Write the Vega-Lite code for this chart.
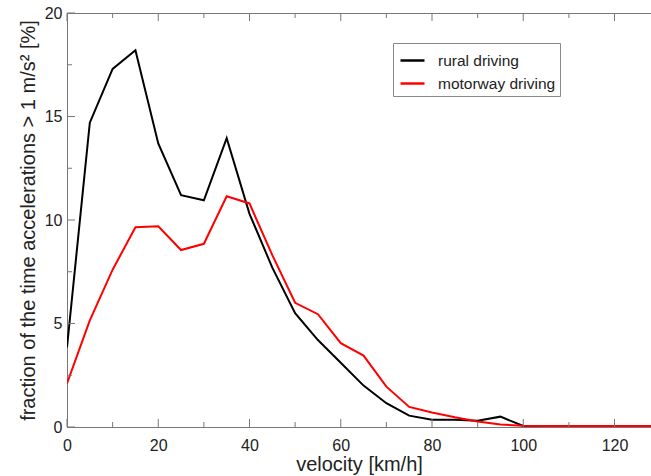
{
  "$schema": "https://vega.github.io/schema/vega-lite/v6.json",
  "autosize": "none",
  "padding": {"left": 67, "top": 13, "right": 0, "bottom": 49},
  "width": 584,
  "height": 414,
  "background": "white",
  "config": {
    "view": {"stroke": "#777", "strokeWidth": 1},
    "font": "Liberation Sans",
    "axis": {"grid": false, "domainColor": "#777", "labelColor": "#222", "titleColor": "#222", "labelFontSize": 16, "titleFontSize": 20, "titleFontWeight": "normal", "labelFont": "Liberation Sans", "titleFont": "Liberation Sans"}
  },
  "datasets": {
    "curves": [
      {"series": "rural driving", "v": 0, "f": 3.85},
      {"series": "rural driving", "v": 5, "f": 14.7},
      {"series": "rural driving", "v": 10, "f": 17.3},
      {"series": "rural driving", "v": 15, "f": 18.2},
      {"series": "rural driving", "v": 20, "f": 13.7},
      {"series": "rural driving", "v": 25, "f": 11.2},
      {"series": "rural driving", "v": 30, "f": 10.95},
      {"series": "rural driving", "v": 35, "f": 13.95},
      {"series": "rural driving", "v": 40, "f": 10.3},
      {"series": "rural driving", "v": 45, "f": 7.7},
      {"series": "rural driving", "v": 50, "f": 5.5},
      {"series": "rural driving", "v": 55, "f": 4.2},
      {"series": "rural driving", "v": 60, "f": 3.1},
      {"series": "rural driving", "v": 65, "f": 2.0},
      {"series": "rural driving", "v": 70, "f": 1.15},
      {"series": "rural driving", "v": 75, "f": 0.55},
      {"series": "rural driving", "v": 80, "f": 0.35},
      {"series": "rural driving", "v": 85, "f": 0.35},
      {"series": "rural driving", "v": 90, "f": 0.3},
      {"series": "rural driving", "v": 95, "f": 0.5},
      {"series": "rural driving", "v": 100, "f": 0.05},
      {"series": "rural driving", "v": 105, "f": 0.0},
      {"series": "rural driving", "v": 110, "f": 0.0},
      {"series": "motorway driving", "v": 0, "f": 2.1},
      {"series": "motorway driving", "v": 5, "f": 5.15},
      {"series": "motorway driving", "v": 10, "f": 7.6},
      {"series": "motorway driving", "v": 15, "f": 9.65},
      {"series": "motorway driving", "v": 20, "f": 9.7},
      {"series": "motorway driving", "v": 25, "f": 8.55},
      {"series": "motorway driving", "v": 30, "f": 8.85},
      {"series": "motorway driving", "v": 35, "f": 11.15},
      {"series": "motorway driving", "v": 40, "f": 10.8},
      {"series": "motorway driving", "v": 45, "f": 8.3},
      {"series": "motorway driving", "v": 50, "f": 6.0},
      {"series": "motorway driving", "v": 55, "f": 5.45},
      {"series": "motorway driving", "v": 60, "f": 4.05},
      {"series": "motorway driving", "v": 65, "f": 3.45},
      {"series": "motorway driving", "v": 70, "f": 1.95},
      {"series": "motorway driving", "v": 75, "f": 0.97},
      {"series": "motorway driving", "v": 80, "f": 0.7},
      {"series": "motorway driving", "v": 85, "f": 0.47},
      {"series": "motorway driving", "v": 90, "f": 0.27},
      {"series": "motorway driving", "v": 95, "f": 0.12},
      {"series": "motorway driving", "v": 100, "f": 0.06},
      {"series": "motorway driving", "v": 105, "f": 0.05},
      {"series": "motorway driving", "v": 110, "f": 0.05},
      {"series": "motorway driving", "v": 115, "f": 0.05},
      {"series": "motorway driving", "v": 120, "f": 0.05},
      {"series": "motorway driving", "v": 125, "f": 0.05},
      {"series": "motorway driving", "v": 128, "f": 0.05}
    ],
    "xmajor": [{"v": 0}, {"v": 20}, {"v": 40}, {"v": 60}, {"v": 80}, {"v": 100}, {"v": 120}],
    "xminor": [{"v": 10}, {"v": 30}, {"v": 50}, {"v": 70}, {"v": 90}, {"v": 110}],
    "ymajor": [{"f": 0}, {"f": 5}, {"f": 10}, {"f": 15}, {"f": 20}],
    "yminor": [{"f": 2.5}, {"f": 7.5}, {"f": 12.5}, {"f": 17.5}]
  },
  "layer": [
    {
      "data": {"name": "curves"},
      "mark": {"type": "line", "strokeWidth": 2, "clip": true},
      "encoding": {
        "x": {"field": "v", "type": "quantitative", "title": "velocity [km/h]", "scale": {"domain": [0, 128], "nice": false, "zero": false},
          "axis": {"orient": "bottom", "title": "velocity [km/h]", "values": [0,20,40,60,80,100,120], "ticks": false,
            "labelPadding": 10, "titlePadding": 1, "labelFlush": false, "labelOverlap": false}},
        "y": {"field": "f", "type": "quantitative", "title": "fraction of the time accelerations > 1 m/s² [%]", "scale": {"domain": [0, 20], "nice": false},
          "axis": {"orient": "left", "title": "fraction of the time accelerations > 1 m/s² [%]", "values": [0,5,10,15,20], "ticks": false,
            "labelPadding": 5, "titlePadding": 6, "labelOverlap": false}},
        "color": {"field": "series", "type": "nominal", "sort": ["rural driving", "motorway driving"],
          "scale": {"domain": ["rural driving", "motorway driving"], "range": ["#000000", "#ff0000"]},
          "legend": {"title": null, "orient": "none", "legendX": 326, "legendY": 30, "strokeColor": "#888", "fillColor": "white",
            "padding": 4, "symbolType": "stroke", "symbolSize": 576, "symbolStrokeWidth": 2.5, "labelFontSize": 15.5, "labelFont": "Liberation Sans", "labelColor": "#222", "rowPadding": 1, "symbolOffset": 2, "labelOffset": 12}}
      }
    },
    {
      "data": {"name": "xmajor"},
      "mark": {"type": "tick", "orient": "vertical", "size": 8, "thickness": 1, "yOffset": -4, "color": "#777", "opacity": 1},
      "encoding": {"x": {"field": "v", "type": "quantitative", "title": "velocity [km/h]"}, "y": {"datum": 0, "type": "quantitative"}}
    },
    {
      "data": {"name": "xminor"},
      "mark": {"type": "tick", "orient": "vertical", "size": 5, "thickness": 1, "yOffset": -2.5, "color": "#777", "opacity": 1},
      "encoding": {"x": {"field": "v", "type": "quantitative", "title": "velocity [km/h]"}, "y": {"datum": 0, "type": "quantitative"}}
    },
    {
      "data": {"name": "xmajor"},
      "mark": {"type": "tick", "orient": "vertical", "size": 8, "thickness": 1, "yOffset": 4, "color": "#777", "opacity": 1},
      "encoding": {"x": {"field": "v", "type": "quantitative", "title": "velocity [km/h]"}, "y": {"datum": 20, "type": "quantitative"}}
    },
    {
      "data": {"name": "xminor"},
      "mark": {"type": "tick", "orient": "vertical", "size": 5, "thickness": 1, "yOffset": 2.5, "color": "#777", "opacity": 1},
      "encoding": {"x": {"field": "v", "type": "quantitative", "title": "velocity [km/h]"}, "y": {"datum": 20, "type": "quantitative"}}
    },
    {
      "data": {"name": "ymajor"},
      "mark": {"type": "tick", "orient": "horizontal", "size": 8, "thickness": 1, "xOffset": 4, "color": "#777", "opacity": 1},
      "encoding": {"y": {"field": "f", "type": "quantitative", "title": "fraction of the time accelerations > 1 m/s² [%]"}, "x": {"datum": 0, "type": "quantitative"}}
    },
    {
      "data": {"name": "yminor"},
      "mark": {"type": "tick", "orient": "horizontal", "size": 5, "thickness": 1, "xOffset": 2.5, "color": "#777", "opacity": 1},
      "encoding": {"y": {"field": "f", "type": "quantitative", "title": "fraction of the time accelerations > 1 m/s² [%]"}, "x": {"datum": 0, "type": "quantitative"}}
    }
  ]
}
